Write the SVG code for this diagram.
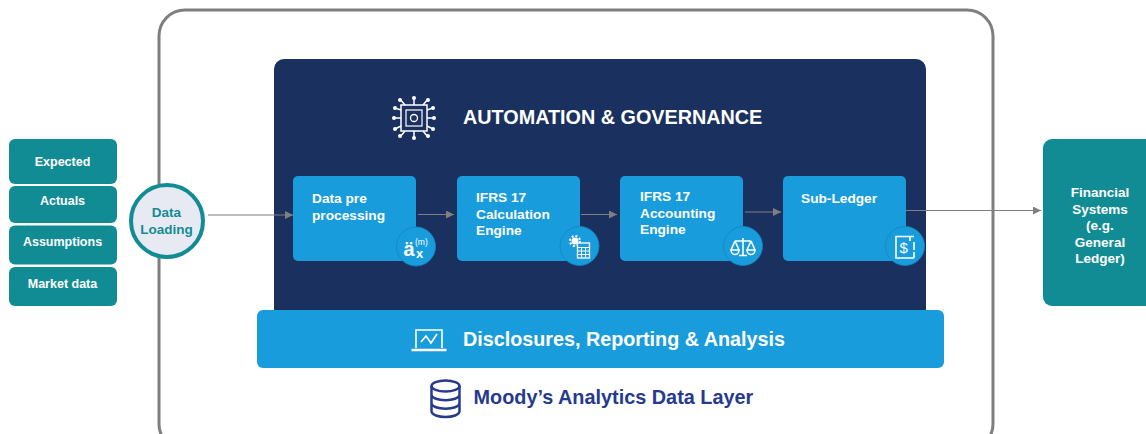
<svg xmlns="http://www.w3.org/2000/svg" width="1146" height="434" viewBox="0 0 1146 434">
<style>
text{font-family:"Liberation Sans",Arial,sans-serif;font-weight:700}
.w{fill:#fff}
.in{fill:#fff;font-size:12.5px;text-anchor:middle}
.box{fill:#189cdb}
.badge{fill:#189cdb;stroke:#1585c0;stroke-width:.8}
.tl{fill:#128c94}
.eng{fill:#fff;font-size:13.700px}
.ic{fill:none;stroke:#fff;stroke-width:1.6}
.conn{stroke:#7f7f7f;stroke-width:1.2;fill:none;marker-end:url(#a)}
</style>
<defs><marker id="a" markerUnits="userSpaceOnUse" markerWidth="9" markerHeight="8" refX="8" refY="4" orient="auto"><path d="M0 0L8 4L0 8Z" fill="#7f7f7f"/></marker></defs>
<rect width="1146" height="434" fill="#fff"/>
<g id="platform"><rect x="159" y="10" width="834" height="440" rx="26" fill="#fff" stroke="#7f7f7f" stroke-width="3"/></g>
<g id="automation">
<rect x="274" y="59" width="652" height="270" rx="10" fill="#1a315f"/>
<text x="463" y="124" class="w" font-size="19.800">AUTOMATION &amp; GOVERNANCE</text>
<g fill="none" stroke="#fff" stroke-width="1.500">
<rect x="401" y="105" width="26" height="26"/><rect x="406" y="110" width="16" height="16" stroke-width="1.200"/><circle cx="414" cy="118" r="3.500" stroke-width="1.300"/>
<path d="M414 105V97M405 105L400 99M423 105L428 99M401 110L395 108M401 118H394M401 126L395 129M427 110L433 108M427 118H434M427 126L433 129M405 131L400 137M414 131V139M423 131L428 137"/>
</g>
<g fill="#fff"><circle cx="414" cy="98" r="2"/><circle cx="400" cy="100" r="2"/><circle cx="428" cy="100" r="2"/><circle cx="395" cy="108" r="2"/><circle cx="394" cy="118" r="2"/><circle cx="395" cy="129" r="2"/><circle cx="433" cy="108" r="2"/><circle cx="434" cy="118" r="2"/><circle cx="433" cy="129" r="2"/><circle cx="400" cy="136" r="2"/><circle cx="414" cy="138" r="2"/><circle cx="428" cy="136" r="2"/></g>
</g>
<g id="inputs">
<g id="expected"><rect class="tl" x="9" y="139" width="108" height="45" rx="6"/><text class="in" x="62.500" y="166">Expected</text></g>
<g id="actuals"><rect class="tl" x="9" y="186" width="108" height="37" rx="6"/><text class="in" x="62.500" y="205">Actuals</text></g>
<g id="assumptions"><rect class="tl" x="9" y="225.500" width="108" height="39" rx="6"/><text class="in" x="62.500" y="246">Assumptions</text></g>
<g id="market"><rect class="tl" x="9" y="267" width="108" height="39" rx="6"/><text class="in" x="62.500" y="288">Market data</text></g>
</g>
<g id="connectors">
<path class="conn" d="M208 215H293"/>
<path class="conn" d="M418 214.500H454"/>
<path class="conn" d="M581 214.500H617"/>
<path class="conn" d="M745 212H781"/>
<path class="conn" d="M906 210.500H1041"/>
</g>
<g id="data-loading"><circle cx="167" cy="221" r="36" fill="#e8eaf3" stroke="#128c94" stroke-width="4"/><text x="166.500" y="217" text-anchor="middle" font-size="13.500" fill="#128c94">Data</text><text x="166.500" y="234" text-anchor="middle" font-size="13.500" fill="#128c94">Loading</text></g>
<g id="preprocessing"><rect class="box" x="293" y="176" width="123" height="85" rx="5"/><text class="eng" x="312" y="203">Data pre</text><text class="eng" x="312" y="220">processing</text>
<circle class="badge" cx="416" cy="246.500" r="19.500"/><text x="403.500" y="256" class="w" font-size="20">ä</text><text x="415" y="245" class="w" font-size="8.500" style="font-weight:400">(m)</text><text x="416" y="258" class="w" font-size="13">x</text></g>
<g id="calc"><rect class="box" x="457" y="176" width="123" height="85" rx="5"/><text class="eng" x="476" y="202">IFRS 17</text><text class="eng" x="476" y="219">Calculation</text><text class="eng" x="476" y="235">Engine</text>
<circle class="badge" cx="579.500" cy="246" r="19.500"/><circle cx="575" cy="241" r="3.500" fill="#fff"/><circle cx="575" cy="241" r="5" fill="none" stroke="#fff" stroke-width="2" stroke-dasharray="2 1.900"/><rect x="577.500" y="243" width="12" height="15" fill="#189cdb" stroke="#fff" stroke-width="1.300"/><path d="M578 247.500H589M578 251H589M578 254.500H589M581.500 247V258M585.500 247V258" stroke="#fff" fill="none"/></g>
<g id="accounting"><rect class="box" x="620" y="176" width="123" height="85" rx="5"/><text class="eng" x="640" y="201">IFRS 17</text><text class="eng" x="640" y="218">Accounting</text><text class="eng" x="640" y="234">Engine</text>
<circle class="badge" cx="743" cy="246" r="19.500"/><path class="ic" stroke-width="1.800" d="M743 238V255M735 241H751M735 241L731 250M735 241L739 250M751 241L747 250M751 241L755 250M731 250A4 4.500 0 0 0 739 250ZM747 250A4 4.500 0 0 0 755 250ZM739 255.500H747"/></g>
<g id="subledger"><rect class="box" x="783" y="176" width="123" height="85" rx="5"/><text class="eng" x="801" y="203">Sub-Ledger</text>
<circle class="badge" cx="905" cy="246" r="19.500"/><path class="ic" d="M914 236.500H896V258H914M910 236.500V241M914 242V250M914 252V258"/><text x="899.500" y="253" class="w" font-size="15" style="font-weight:400">$</text></g>
<g id="disclosures"><rect class="box" x="257" y="310" width="687" height="58" rx="6"/><text x="463" y="346" class="w" font-size="19.750">Disclosures, Reporting &amp; Analysis</text>
<path class="ic" d="M416 348V330H442V348"/><path d="M411.500 350H446.500" stroke="#fff" stroke-width="2.500" fill="none"/><path class="ic" stroke-width="1.200" d="M421 342L426 336L431 343L437 334"/></g>
<g id="data-layer"><text x="473.500" y="404" font-size="19.850" fill="#263a8e">Moody’s Analytics Data Layer</text>
<g fill="none" stroke="#263a8e" stroke-width="2.500"><ellipse cx="445.500" cy="386" rx="14" ry="5.500"/><path d="M431.500 386V411C431.500 419 459.500 419 459.500 411V386M431.500 394.500C431.500 402 459.500 402 459.500 394.500M431.500 403C431.500 410.500 459.500 410.500 459.500 403"/></g></g>
<g id="financial"><rect class="tl" x="1043" y="139" width="120" height="167" rx="9"/>
<g font-size="13.500" fill="#fff" text-anchor="middle"><text x="1100" y="197">Financial</text><text x="1100" y="214">Systems</text><text x="1100" y="230">(e.g.</text><text x="1100" y="246.500">General</text><text x="1100" y="263">Ledger)</text></g></g>
</svg>
